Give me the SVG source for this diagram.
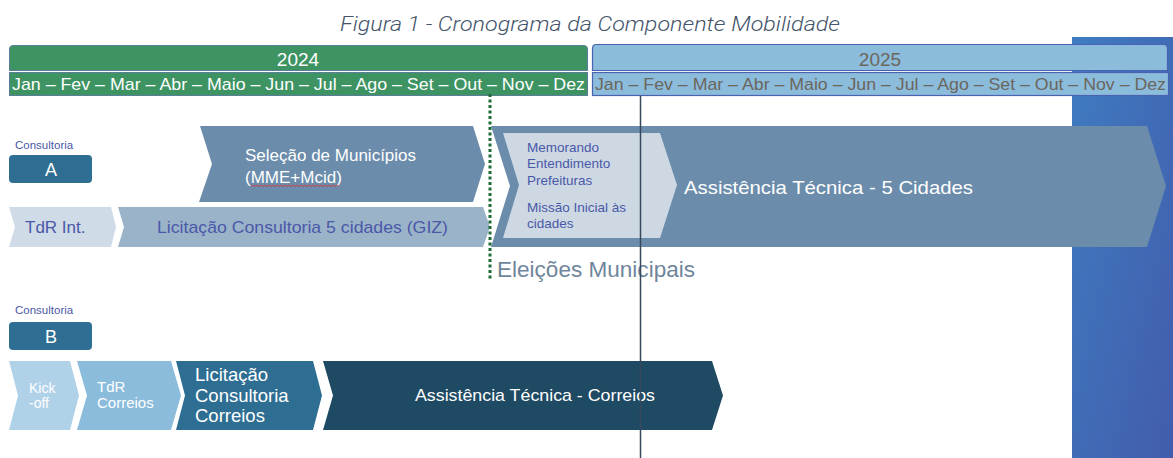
<svg xmlns="http://www.w3.org/2000/svg" width="1173" height="458" viewBox="0 0 1173 458">
<defs>
<linearGradient id="panel" x1="0" y1="0" x2="1" y2="1">
<stop offset="0" stop-color="#3f7cc1"/>
<stop offset="1" stop-color="#425cac"/>
</linearGradient>
<style>
text{font-family:"Liberation Sans",Arial,sans-serif}
.title{font-family:Roboto,"Noto Sans",sans-serif;font-style:italic;font-weight:300;font-size:21px;fill:#44546a}
.g{fill:#3e9363;stroke:#5b7f9a;stroke-width:1}
.b{fill:#8bbcdc;stroke:#4a63b0;stroke-width:1.2}
.wy{fill:#ffffff;font-size:19px}
.gy{fill:#6b665c;font-size:19px}
.wm{fill:#ffffff;font-size:17px}
.gm{fill:#6b665c;font-size:17px}
.lbl{fill:#4a58a8;font-size:11.5px}
.box{fill:#2e6e92}
.boxt{fill:#ffffff;font-size:18px}
.c1{fill:#cfdbe6}
.c2{fill:#9bb3c9}
.c3{fill:#6b8cab}
.c4{fill:#cdd8e3}
.k1{fill:#b0d2e8}
.k2{fill:#8bbcdc}
.k3{fill:#2e6e92}
.k4{fill:#1f4a63}
.tb{fill:#4a58a8}
.tw{fill:#ffffff}
</style>
</defs>
<rect x="1072" y="37" width="101" height="421" fill="url(#panel)"/>
<text class="title" x="340" y="31" textLength="500" lengthAdjust="spacingAndGlyphs">Figura 1 - Cronograma da Componente Mobilidade</text>
<g id="header-2024">
<path class="g" d="M9.5,70.5 V49 Q9.5,45.5 13,45.5 H584 Q587.5,45.5 587.5,49 V70.5 Z"/>
<text class="wy" x="298" y="66" text-anchor="middle">2024</text>
<rect class="g" x="9.5" y="72.5" width="578" height="23"/>
<text class="wm" x="12" y="90" textLength="573" lengthAdjust="spacingAndGlyphs">Jan – Fev – Mar – Abr – Maio – Jun – Jul – Ago – Set – Out – Nov – Dez</text>
</g>
<g id="header-2025">
<path class="b" d="M592.5,70.5 V49 Q592.5,44.5 596,44.5 H1164 Q1167.5,44.5 1167.5,49 V70.5 Z"/>
<text class="gy" x="880" y="66" text-anchor="middle">2025</text>
<rect class="b" x="592.5" y="72.5" width="576" height="23"/>
<text class="gm" x="595" y="90" textLength="571" lengthAdjust="spacingAndGlyphs">Jan – Fev – Mar – Abr – Maio – Jun – Jul – Ago – Set – Out – Nov – Dez</text>
</g>
<g id="consultoria-a">
<text class="lbl" x="15" y="149">Consultoria</text>
<rect class="box" x="9" y="155" width="83" height="28" rx="4"/>
<text class="boxt" x="51" y="176" text-anchor="middle">A</text>
</g>
<g id="selecao">
<polygon class="c3" points="200,126 473,126 485,164 473,202 199,202 212,164"/>
<text class="tw" x="245" y="161" font-size="17">Seleção de Municípios</text>
<text class="tw" x="245" y="183" font-size="17">(MME+Mcid)</text>
<path d="M251,186.5 l2,-1.5 l2,1.5 l2,-1.5 l2,1.5 l2,-1.5 l2,1.5 l2,-1.5 l2,1.5 l2,-1.5 l2,1.5 l2,-1.5 l2,1.5 l2,-1.5 l2,1.5 l2,-1.5 l2,1.5 l2,-1.5 l2,1.5 l2,-1.5 l2,1.5 l2,-1.5 l2,1.5 l2,-1.5 l2,1.5 l2,-1.5 l2,1.5 l2,-1.5 l2,1.5 l2,-1.5 l2,1.5 l2,-1.5 l2,1.5 l2,-1.5 l2,1.5 l2,-1.5 l2,1.5 l2,-1.5 l2,1.5 l2,-1.5 l2,1.5 l2,-1.5 l2,1.5 l2,-1.5 l2,1.5" fill="none" stroke="#d9343a" stroke-width="0.8"/>
</g>
<g id="tdr-int">
<polygon class="c1" points="9,207 111,207 116,227 111,247 9,247 15,227"/>
<text class="tb" x="25" y="233" font-size="17">TdR Int.</text>
</g>
<g id="licitacao-giz">
<polygon class="c2" points="118,207 483,207 490,227 483,247 118,247 124,227"/>
<text class="tb" x="157" y="233" font-size="17" textLength="291" lengthAdjust="spacingAndGlyphs">Licitação Consultoria 5 cidades (GIZ)</text>
</g>
<g id="assistencia-5-cidades">
<polygon class="c3" points="491,126 1147,126 1166,186 1147,247 491,247 510,186"/>
<text class="tw" x="684" y="194" font-size="19" textLength="289" lengthAdjust="spacingAndGlyphs">Assistência Técnica - 5 Cidades</text>
</g>
<g id="memorando">
<polygon class="c4" points="503,133 660,133 677,185 660,238 503,238 519,185"/>
<text class="tb" x="527" y="152" font-size="13.5">Memorando</text>
<text class="tb" x="527" y="168" font-size="13.5">Entendimento</text>
<text class="tb" x="527" y="185" font-size="13.5">Prefeituras</text>
<text class="tb" x="527" y="212" font-size="13.5">Missão Inicial às</text>
<text class="tb" x="527" y="228" font-size="13.5">cidades</text>
</g>
<g id="eleicoes">
<text x="497" y="277" font-size="21.5" fill="#6f859b" textLength="198" lengthAdjust="spacingAndGlyphs">Eleições Municipais</text>
</g>
<g id="consultoria-b">
<text class="lbl" x="15" y="314">Consultoria</text>
<rect class="box" x="9" y="322" width="83" height="28" rx="4"/>
<text class="boxt" x="51" y="343" text-anchor="middle">B</text>
</g>
<g id="kickoff">
<polygon class="k1" points="9,361 70,361 79,395.5 70,430 9,430 18,395.5"/>
<text class="tw" x="29" y="393" font-size="14">Kick</text>
<text class="tw" x="29" y="408" font-size="14">-off</text>
</g>
<g id="tdr-correios">
<polygon class="k2" points="77,361 171,361 181,395.5 171,430 77,430 87,395.5"/>
<text class="tw" x="97" y="392" font-size="15">TdR</text>
<text class="tw" x="97" y="408" font-size="15">Correios</text>
</g>
<g id="licitacao-correios">
<polygon class="k3" points="176,361 313,361 322,395.5 313,430 176,430 185,395.5"/>
<text class="tw" x="195" y="381" font-size="18.5">Licitação</text>
<text class="tw" x="195" y="402" font-size="18.5">Consultoria</text>
<text class="tw" x="195" y="422" font-size="18.5">Correios</text>
</g>
<g id="assistencia-correios">
<polygon class="k4" points="323,361 712,361 723,395.5 712,430 323,430 333,395.5"/>
<text class="tw" x="415" y="401" font-size="17" textLength="240" lengthAdjust="spacingAndGlyphs">Assistência Técnica - Correios</text>
</g>
<g id="connectors">
<line x1="490" y1="94" x2="490" y2="281" stroke="#1d6b35" stroke-width="3" stroke-dasharray="3 2.5"/>
<line x1="640.5" y1="96" x2="640.5" y2="458" stroke="#37475c" stroke-width="1.5"/>
</g>
</svg>
